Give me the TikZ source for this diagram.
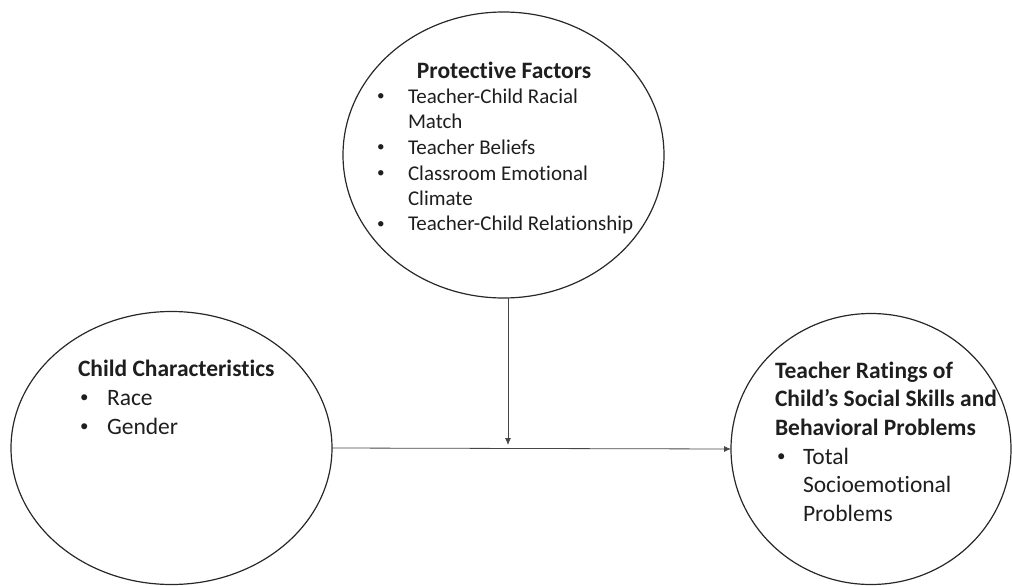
\documentclass[tikz,border=0pt]{standalone}
\usepackage{fontspec}
\setmainfont[Ligatures={NoCommon,NoRequired,NoContextual}]{Carlito}
\usetikzlibrary{shapes.geometric,arrows.meta}
\definecolor{txt}{RGB}{30,30,30}
\definecolor{linec}{RGB}{40,40,40}
\definecolor{arrc}{RGB}{70,70,70}
\newcommand{\bul}{\hspace{2pt}\raisebox{0.12em}{\scalebox{0.72}{•}}}
\tikzset{
  oval/.style={draw=linec, line width=1.2pt, ellipse, inner sep=0pt, outer sep=0pt},
  lbl/.style={inner sep=0pt, outer sep=0pt, text=txt, anchor=base west},
  arr/.style={draw=arrc, line width=0.8pt, -{Latex[length=7pt,width=6pt]}}
}
\begin{document}
\begin{tikzpicture}[x=1pt,y=-1pt]
\useasboundingbox (0,0) rectangle (1012,586);
% ellipses
\node[oval, minimum width=321pt, minimum height=286pt] (top) at (503.5,155) {};
\node[oval, minimum width=321pt, minimum height=273pt] (left) at (171.5,448) {};
\node[oval, minimum width=280pt, minimum height=271pt] (right) at (871,449) {};
% texts
\node[lbl] (toptext) at (375,78) {\fontsize{21}{25.5}\selectfont
  \begin{tabular}[t]{@{}p{33pt}@{}l@{}}
  \multicolumn{2}{@{}c@{}}{\fontsize{23.5}{25.5}\selectfont\textbf{Protective Factors}}\\
  \bul & Teacher-Child Racial\\
  & Match\\
  \bul & Teacher Beliefs\\
  \bul & Classroom Emotional\\
  & Climate\\
  \bul & Teacher-Child Relationship
  \end{tabular}};
\node[lbl] (lefttext) at (78,376) {\fontsize{23.5}{29}\selectfont
  \begin{tabular}[t]{@{}p{29pt}@{}l@{}}
  \multicolumn{2}{@{}l@{}}{\textbf{Child Characteristics}}\\
  \bul & Race\\
  \bul & Gender
  \end{tabular}};
\node[lbl] (righttext) at (775,378) {\fontsize{23.5}{28.7}\selectfont
  \begin{tabular}[t]{@{}p{28pt}@{}l@{}}
  \multicolumn{2}{@{}l@{}}{\textbf{Teacher Ratings of}}\\
  \multicolumn{2}{@{}l@{}}{\textbf{Child’s Social Skills and}}\\
  \multicolumn{2}{@{}l@{}}{\textbf{Behavioral Problems}}\\
  \bul & Total\\
  & Socioemotional\\
  & Problems
  \end{tabular}};
% connectors
\coordinate (meet) at (508,445);
\draw[arr] (left.east) -- (right.west);
\draw[arr] (meet |- top.south) -- (meet);
\end{tikzpicture}
\end{document}
